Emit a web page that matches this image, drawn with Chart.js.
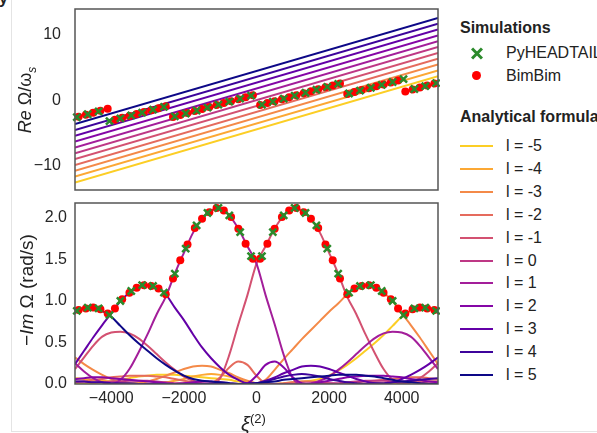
<!DOCTYPE html>
<html>
<head>
<meta charset="utf-8">
<script src="https://cdn.jsdelivr.net/npm/chart.js@4.4.0/dist/chart.umd.min.js"></script>
<style>
  body { margin: 0; background: #fff; width: 597px; height: 433px; overflow: hidden; position: relative;
         font-family: "Liberation Sans", Arial, sans-serif; color: #222; }
  canvas { position: absolute; left: 0; }
  #topChart { top: 0; }
  #botChart { top: 195px; }
  .txt { position: absolute; white-space: nowrap; font-size: 16px; line-height: 18px; }
  .ttl { font-weight: bold; }
  .ylab { position: absolute; white-space: nowrap; transform: translate(-50%, -50%) rotate(-90deg); }
  .sw { position: absolute; width: 33px; height: 2px; }
  .dot { position: absolute; width: 9px; height: 9px; border-radius: 50%; background: #f00; }
  .xm { position: absolute; width: 12px; height: 12px; }
  .xm:before, .xm:after { content: ""; position: absolute; left: -1px; top: 5px; width: 14px; height: 3px; background: #2b8a2b; }
  .xm:before { transform: rotate(45deg); }
  .xm:after { transform: rotate(-45deg); }
  .frame { position: absolute; background: #e4e4e4; }
</style>
</head>
<body>
<div class="frame" style="left:11px;top:0;width:1px;height:431px"></div>
<div class="frame" style="left:11px;top:431px;width:586px;height:1px"></div>
<div class="txt ttl" style="left:-1px;top:-10px">y</div>
<canvas id="topChart" width="440" height="192"></canvas>
<canvas id="botChart" width="440" height="238"></canvas>

<div class="ylab" style="left:27px;top:100px;font-size:18px"><i>Re</i> Ω/ω<sub style="font-size:12px"><i>s</i></sub></div>
<div class="ylab" style="left:27px;top:290px;font-size:19px">−<i>Im</i> Ω (rad/s)</div>
<div class="txt" style="left:241px;top:408px;font-size:20px;line-height:22px"><i>ξ</i><sup style="font-size:13px">(2)</sup></div>

<div id="legend"></div>

<script>
// x grid of the analytical curves
const xiGrid = [-5000,-4750,-4500,-4250,-4000,-3750,-3500,-3250,-3000,-2750,-2500,-2250,-2000,-1750,-1500,-1250,-1000,-750,-500,-250,
  0,250,500,750,1000,1250,1500,1750,2000,2250,2500,2750,3000,3250,3500,3750,4000,4250,4500,4750,5000];
const xTicks = [-4000, -2000, 0, 2000, 4000];
const reTicks = [-10, 0, 10];
const imTicks = [0, 0.5, 1.0, 1.5, 2.0];

// modes and colours
const modes = [-5, -4, -3, -2, -1, 0, 1, 2, 3, 4, 5];
const modeColors = ['#fcce25', '#fca834', '#f48a48', '#e56b5d', '#d35171', '#be3885',
  '#a31e9a', '#8506a6', '#6300a7', '#3d049b', '#0d0887'];

// Re Omega / omega_s of the analytical lines at xi = -5000 and xi = 5000
const reAtLeft  = [-12.55, -11.66, -10.77, -9.88, -8.99, -8.10, -7.21, -6.32, -5.43, -4.54, -3.65];
const reAtRight = [3.65, 4.54, 5.43, 6.32, 7.21, 8.10, 8.99, 9.88, 10.77, 11.66, 12.55];

// -Im Omega (rad/s) of the analytical curves on xiGrid
const imL5 = [0.88,0.91,0.92,0.88,0.81,0.70,0.59,0.49,0.40,0.31,0.23,0.16,0.10,0.06,0.04,0.03,0.02,0.01,0.00,0.00,
  0.01,0.02,0.03,0.05,0.06,0.07,0.08,0.09,0.10,0.11,0.11,0.11,0.10,0.09,0.07,0.05,0.03,0.02,0.01,0.00,0.00];
const imL4 = [0.03,0.03,0.02,0.02,0.01,0.01,0.01,0.00,0.00,0.00,0.00,0.00,0.00,0.00,0.00,0.00,0.00,0.00,0.00,0.00,
  0.01,0.03,0.06,0.09,0.11,0.12,0.11,0.09,0.06,0.04,0.02,0.01,0.00,0.01,0.01,0.02,0.03,0.04,0.05,0.06,0.07];
const imL3 = [0.24,0.40,0.56,0.71,0.85,1.00,1.10,1.17,1.19,1.16,1.08,0.92,0.77,0.60,0.44,0.31,0.20,0.11,0.05,0.01,
  0.01,0.04,0.08,0.13,0.17,0.21,0.22,0.21,0.18,0.14,0.10,0.06,0.03,0.01,0.00,0.02,0.06,0.11,0.17,0.24,0.32];
const imL2 = [0.06,0.07,0.08,0.08,0.07,0.06,0.05,0.04,0.03,0.02,0.01,0.00,0.01,0.02,0.03,0.03,0.02,0.01,0.00,0.01,
  0.10,0.23,0.27,0.20,0.08,0.01,0.00,0.02,0.04,0.06,0.08,0.09,0.10,0.10,0.10,0.09,0.08,0.06,0.05,0.03,0.02];
const imL1 = [0.25,0.15,0.07,0.02,0.00,0.05,0.18,0.38,0.60,0.84,1.05,1.33,1.58,1.82,1.99,2.09,2.12,2.03,1.87,1.66,
  1.45,1.07,0.72,0.35,0.07,0.00,0.01,0.04,0.09,0.17,0.26,0.36,0.46,0.55,0.61,0.63,0.62,0.57,0.46,0.32,0.18];
const imL0 = [0.03,0.03,0.02,0.02,0.03,0.03,0.04,0.04,0.04,0.03,0.02,0.01,0.01,0.00,0.00,0.00,0.00,0.00,0.00,0.00,
  0.00,0.00,0.00,0.00,0.00,0.00,0.00,0.00,0.01,0.01,0.02,0.03,0.04,0.04,0.04,0.03,0.03,0.02,0.02,0.03,0.03];
const imLm1 = [0.18,0.32,0.46,0.57,0.62,0.63,0.61,0.55,0.46,0.36,0.26,0.17,0.09,0.04,0.01,0.00,0.07,0.35,0.72,1.07,
  1.45,1.66,1.87,2.03,2.12,2.09,1.99,1.82,1.58,1.33,1.05,0.84,0.60,0.38,0.18,0.05,0.00,0.02,0.07,0.15,0.25];
const imLm2 = [0.02,0.03,0.05,0.06,0.08,0.09,0.10,0.10,0.10,0.09,0.08,0.06,0.04,0.02,0.00,0.01,0.08,0.20,0.27,0.23,
  0.10,0.01,0.00,0.01,0.02,0.03,0.03,0.02,0.01,0.00,0.01,0.02,0.03,0.04,0.05,0.06,0.07,0.08,0.08,0.07,0.06];
const imLm3 = [0.32,0.24,0.17,0.11,0.06,0.02,0.00,0.01,0.03,0.06,0.10,0.14,0.18,0.21,0.22,0.21,0.17,0.13,0.08,0.04,
  0.01,0.05,0.17,0.30,0.42,0.54,0.65,0.76,0.87,0.97,1.08,1.16,1.19,1.17,1.10,1.00,0.85,0.71,0.56,0.40,0.24];
const imLm4 = [0.07,0.06,0.05,0.04,0.03,0.02,0.01,0.01,0.00,0.01,0.02,0.04,0.06,0.09,0.11,0.12,0.11,0.09,0.06,0.03,
  0.01,0.00,0.00,0.00,0.00,0.00,0.00,0.00,0.00,0.00,0.00,0.00,0.00,0.01,0.01,0.01,0.02,0.02,0.02,0.03,0.03];
const imLm5 = [0.00,0.00,0.01,0.02,0.03,0.05,0.07,0.09,0.10,0.11,0.11,0.11,0.10,0.09,0.08,0.07,0.06,0.05,0.03,0.02,
  0.01,0.00,0.00,0.01,0.02,0.03,0.04,0.06,0.10,0.16,0.23,0.31,0.40,0.49,0.59,0.70,0.81,0.88,0.92,0.91,0.88];
const imCurves = [imLm5, imLm4, imLm3, imLm2, imLm1, imL0, imL1, imL2, imL3, imL4, imL5];

// simulations
const pyXi = [-4950,-4650,-4350,-4050,-3750,-3450,-3150,-2850,-2550,-2250,-1950,-1650,-1350,-1050,-750,-450,-150,
  150,450,750,1050,1350,1650,1950,2250,2550,2850,3150,3450,3750,4050,4350,4650,4950];
const pyRe = [-2.60,-2.15,-1.70,-3.20,-2.77,-2.33,-1.89,-1.45,-1.02,-2.48,-2.03,-1.58,-1.13,-0.68,-0.23,0.23,0.68,
  -0.68,-0.23,0.23,0.68,1.13,1.58,2.03,2.48,1.02,1.45,1.89,2.33,2.77,3.20,1.70,2.15,2.60];
const pyIm = [0.88,0.92,0.91,0.83,1.00,1.12,1.19,1.18,1.10,1.33,1.63,1.91,2.06,2.12,2.03,1.83,1.54,
  1.54,1.83,2.03,2.12,2.06,1.91,1.63,1.33,1.10,1.18,1.19,1.12,1.00,0.83,0.91,0.92,0.88];

const bbXi = [-4900,-4700,-4500,-4300,-4100,-3900,-3700,-3500,-3300,-3100,-2900,-2700,-2500,-2300,-2100,-1900,-1700,-1500,-1300,-1100,-900,-700,-500,-300,-100,
  100,300,500,700,900,1100,1300,1500,1700,1900,2100,2300,2500,2700,2900,3100,3300,3500,3700,3900,4100,4300,4500,4700,4900];
const bbRe = [-2.53,-2.23,-1.92,-1.62,-1.32,-2.99,-2.70,-2.40,-2.11,-1.82,-1.53,-1.24,-0.94,-2.55,-2.25,-1.95,-1.65,-1.35,-1.05,-0.75,-0.45,-0.15,0.15,0.45,0.75,
  -0.75,-0.45,-0.15,0.15,0.45,0.75,1.05,1.35,1.65,1.95,2.25,2.55,0.94,1.24,1.53,1.82,2.11,2.40,2.70,2.99,1.32,1.62,1.92,2.23,2.53];
const bbIm = [0.89,0.91,0.92,0.90,0.85,0.91,1.02,1.10,1.16,1.19,1.18,1.15,1.08,1.27,1.49,1.68,1.88,1.99,2.07,2.12,2.09,2.01,1.87,1.69,1.51,
  1.51,1.69,1.87,2.01,2.09,2.12,2.07,1.99,1.88,1.68,1.49,1.27,1.08,1.15,1.18,1.19,1.16,1.10,1.02,0.91,0.85,0.90,0.92,0.91,0.89];

const FONT = { family: '"Liberation Sans", Arial, sans-serif', size: 16 };
const TICK_COLOR = '#262626';

const framePlugin = {
  id: 'frame',
  afterDraw(chart) {
    const a = chart.chartArea, ctx = chart.ctx;
    ctx.save();
    ctx.strokeStyle = '#555';
    ctx.lineWidth = 1.5;
    ctx.strokeRect(a.left, a.top, a.right - a.left, a.bottom - a.top);
    ctx.restore();
  }
};

const minus = v => String(v).replace('-', '\u2212');
// keep the plot box where it is: no padding for overhanging tick labels
const fixY = s => { s.width = 75; s.paddingTop = 0; s.paddingBottom = 0; };
const fixX = s => { s.height = 49; s.paddingLeft = 0; s.paddingRight = 0; };

// top panel: real part
const topDatasets = [
  { type: 'scatter', label: 'PyHEADTAIL', data: pyXi.map((x, i) => ({ x, y: pyRe[i] })), pointStyle: 'crossRot',
    radius: 5, borderColor: '#2b8a2b', borderWidth: 2.5, order: 0, clip: false },
  { type: 'scatter', label: 'BimBim', data: bbXi.map((x, i) => ({ x, y: bbRe[i] })), pointStyle: 'circle',
    radius: 4, backgroundColor: '#f00', borderColor: '#f00', borderWidth: 0, order: 1, clip: false }
];
modes.forEach((l, k) => {
  topDatasets.push({ type: 'line', label: 'l = ' + l, data: [{ x: -5000, y: reAtLeft[k] }, { x: 5000, y: reAtRight[k] }],
    borderColor: modeColors[k], borderWidth: 2, pointRadius: 0, order: 20 - k });
});

new Chart(document.getElementById('topChart'), {
  data: { datasets: topDatasets },
  options: {
    responsive: false, maintainAspectRatio: false, animation: false,
    layout: { autoPadding: false, padding: { top: 9, right: 2, bottom: 2, left: 0 } },
    plugins: { legend: { display: false }, tooltip: { enabled: false } },
    scales: {
      x: { type: 'linear', min: -5000, max: 5000, display: false },
      y: { type: 'linear', min: -13.7, max: 13.9,
        afterFit: fixY,
        afterBuildTicks: s => { s.ticks = reTicks.map(v => ({ value: v })); },
        grid: { display: false, drawTicks: false }, border: { display: false },
        ticks: { font: FONT, color: TICK_COLOR, padding: 14, callback: v => minus(v) } }
    }
  },
  plugins: [framePlugin]
});

// bottom panel: growth rate
const botDatasets = [
  { type: 'scatter', label: 'PyHEADTAIL', data: pyXi.map((x, i) => ({ x, y: pyIm[i] })), pointStyle: 'crossRot',
    radius: 5, borderColor: '#2b8a2b', borderWidth: 2.5, order: 0, clip: false },
  { type: 'scatter', label: 'BimBim', data: bbXi.map((x, i) => ({ x, y: bbIm[i] })), pointStyle: 'circle',
    radius: 4, backgroundColor: '#f00', borderColor: '#f00', borderWidth: 0, order: 1, clip: false }
];
modes.forEach((l, k) => {
  botDatasets.push({ type: 'line', label: 'l = ' + l, data: xiGrid.map((x, i) => ({ x, y: imCurves[k][i] })),
    borderColor: modeColors[k], borderWidth: 2, pointRadius: 0, cubicInterpolationMode: 'monotone', order: 20 - k });
});

new Chart(document.getElementById('botChart'), {
  data: { datasets: botDatasets },
  options: {
    responsive: false, maintainAspectRatio: false, animation: false,
    layout: { autoPadding: false, padding: { top: 8, right: 2, bottom: 0, left: 0 } },
    plugins: { legend: { display: false }, tooltip: { enabled: false } },
    scales: {
      x: { type: 'linear', min: -5000, max: 5000,
        afterFit: fixX,
        afterBuildTicks: s => { s.ticks = xTicks.map(v => ({ value: v })); },
        grid: { display: false, drawTicks: false }, border: { display: false },
        ticks: { font: FONT, color: TICK_COLOR, padding: 5, maxRotation: 0, callback: v => minus(v) } },
      y: { type: 'linear', min: 0, max: 2.18,
        afterFit: fixY,
        afterBuildTicks: s => { s.ticks = imTicks.map(v => ({ value: v })); },
        grid: { display: false, drawTicks: false }, border: { display: false },
        ticks: { font: FONT, color: TICK_COLOR, padding: 8, callback: v => Number(v).toFixed(1) } }
    }
  },
  plugins: [framePlugin]
});

// legend (html)
const leg = document.getElementById('legend');
let html = '';
html += '<div class="txt ttl" style="left:460px;top:19px">Simulations</div>';
html += '<div class="xm" style="left:471px;top:47px"></div>';
html += '<div class="txt" style="left:506px;top:44px">PyHEADTAIL</div>';
html += '<div class="dot" style="left:472px;top:71px"></div>';
html += '<div class="txt" style="left:506px;top:67px">BimBim</div>';
html += '<div class="txt ttl" style="left:460px;top:108px">Analytical formula</div>';
modes.forEach((l, k) => {
  const cy = 146 + k * 22.9;
  html += '<div class="sw" style="left:460px;top:' + (cy - 1) + 'px;background:' + modeColors[k] + '"></div>';
  html += '<div class="txt" style="left:506px;top:' + (cy - 9) + 'px">l = ' + l + '</div>';
});
leg.innerHTML = html;
</script>
</body>
</html>
